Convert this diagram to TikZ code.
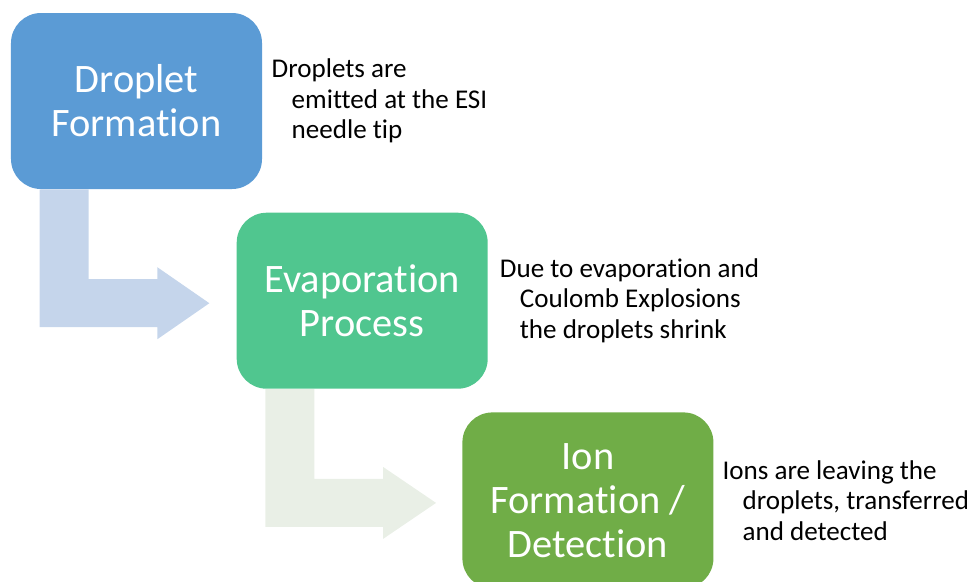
\documentclass[tikz,border=0pt]{standalone}
\usepackage{fontspec}
\setmainfont{Carlito}[RawFeature={-liga;-clig;-calt;-dlig}]
\usetikzlibrary{positioning,calc}
\definecolor{dropblue}{HTML}{5B9BD5}
\definecolor{evapgreen}{HTML}{50C68F}
\definecolor{iongreen}{HTML}{70AD47}
\definecolor{flowblue}{HTML}{C5D5EB}
\definecolor{flowgrey}{HTML}{E9EFE6}
\newcommand{\ind}{\hspace*{4mm}}

\begin{document}
\begin{tikzpicture}[node distance=4.6mm and -5.2mm,
stage/.style={rounded corners=6mm,minimum width=5.02cm,minimum height=3.52cm,align=center,text=white,font=\fontsize{23}{25}\selectfont},
note/.style={align=left,inner sep=0pt,font=\fontsize{15.4}{17.4}\selectfont}]
\useasboundingbox (0,0) rectangle (19.34,-11.62);
\node[stage,fill=dropblue] (drop) at (2.73,-2.02) {Droplet\\Formation};
\node[stage,fill=evapgreen,below right=of drop] (evap) {Evaporation\\Process};
\node[stage,fill=iongreen,below right=of evap] (ion) {Ion\\Formation /\\Detection};
\node[note,right=1.8mm of drop] (dropnote) {Droplets are\\\ind emitted at the ESI\\\ind needle tip};
\node[note,right=2.3mm of evap] (evapnote) {Due to evaporation and\\\ind Coulomb Explosions\\\ind the droplets shrink};
\node[note,right=1.7mm of ion] (ionnote) {Ions are leaving the\\\ind droplets, transferred\\\ind and detected};
% bent arrows between the stages
\coordinate (s1) at ($(drop.south west)+(0.58,0)$);
\fill[flowblue] (s1) -- ++(0.98,0) |- ($(evap.west)+(-1.58,0.43)$) -- ++(0,0.24) -- ($(evap.west)+(-0.54,-0.05)$) -- ($(evap.west)+(-1.58,-0.77)$) -- ++(0,0.24) -| (s1) -- cycle;
\coordinate (s2) at ($(evap.south west)+(0.58,0)$);
\fill[flowgrey] (s2) -- ++(0.98,0) |- ($(ion.west)+(-1.58,0.43)$) -- ++(0,0.24) -- ($(ion.west)+(-0.52,-0.05)$) -- ($(ion.west)+(-1.58,-0.77)$) -- ++(0,0.24) -| (s2) -- cycle;
\end{tikzpicture}
\end{document}
